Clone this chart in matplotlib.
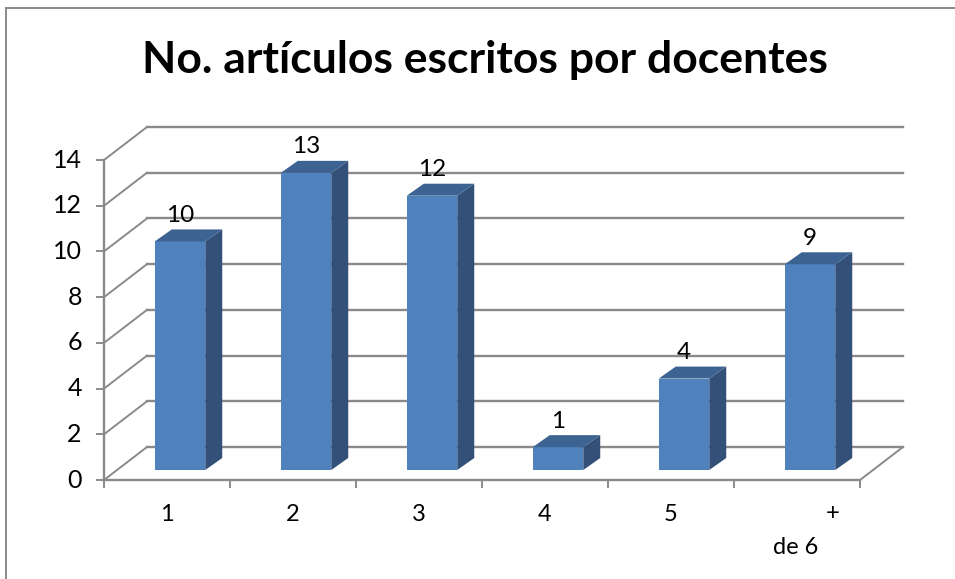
import matplotlib
matplotlib.use('Agg')
import matplotlib.pyplot as plt
from matplotlib.lines import Line2D
from matplotlib.patches import Polygon

plt.rcParams['font.family'] = ['Lato', 'DejaVu Sans']

title = 'No. artículos escritos por docentes'
categories = ['1', '2', '3', '4', '5']
last_category = ['+', 'de 6']
values = [10, 13, 12, 1, 4, 9]
y_ticks = [0, 2, 4, 6, 8, 10, 12, 14]

W, H = 955, 579
GRAY = '#8a8a8a'
FRONT = '#4f81bd'
SIDE = '#325078'
TOP = '#3c6392'

fig = plt.figure(figsize=(W / 100, H / 100), dpi=100)

# axes = front plane of the 3d box, in pixels of the reference
left, right, top, bottom = 104, 860, 160, 480
ax = fig.add_axes([left / W, 1 - bottom / H, (right - left) / W, (bottom - top) / H])
ax.set_xlim(0, 6)
ax.set_ylim(0, 14)
ax.patch.set_visible(False)

# depth of box and bars, in data units
dx = 43 / 126
dy = 33 / (320 / 14)
bar_dx = 17 / 126
bar_dy = 12 / (320 / 14)
base = 10 / (320 / 14)
shift = 13 / 126
width = 50.5 / 126

# back wall and side wall gridlines
for t in y_ticks:
    ax.plot([0, dx], [t, t + dy], color=GRAY, lw=1.4, clip_on=False, zorder=1)
    ax.plot([dx, 6 + dx], [t + dy, t + dy], color=GRAY, lw=1.7, clip_on=False, zorder=1)
ax.plot([6, 6 + dx], [0, dy], color=GRAY, lw=1.4, clip_on=False, zorder=1)

for i, v in enumerate(values):
    x0 = i + 0.5 + shift - width / 2
    x1 = x0 + width
    y0 = base
    y1 = base + v
    ax.bar(x0, v, width=width, bottom=base, align='edge', color=FRONT, clip_on=False, zorder=3)
    ax.add_patch(Polygon([(x1, y0), (x1 + bar_dx, y0 + bar_dy), (x1 + bar_dx, y1 + bar_dy), (x1, y1)],
                         closed=True, fc=SIDE, ec='none', clip_on=False, zorder=3))
    ax.add_patch(Polygon([(x0, y1), (x1, y1), (x1 + bar_dx, y1 + bar_dy), (x0 + bar_dx, y1 + bar_dy)],
                         closed=True, fc=TOP, ec='none', clip_on=False, zorder=3))
    ax.annotate(str(v), (x0 + width / 2, y1 + bar_dy), xytext=(0, 14 * 0.72), textcoords='offset points',
                ha='center', va='center', fontsize=17.5, color='black', zorder=4, annotation_clip=False)

for s in ['top', 'right']:
    ax.spines[s].set_visible(False)
for s in ['left', 'bottom']:
    ax.spines[s].set_color(GRAY)
    ax.spines[s].set_linewidth(1.7)

ax.set_yticks(y_ticks)
ax.set_yticklabels([str(t) for t in y_ticks], fontsize=18, va='center')
ax.tick_params(axis='y', length=6, width=1.4, color=GRAY, pad=10)
ax.set_xticks(range(7))
ax.set_xticklabels([])
ax.tick_params(axis='x', which='major', length=6, width=1.4, color=GRAY)
ax.set_xticks([i + 0.5 for i in range(5)], minor=True)
ax.set_xticklabels(categories, minor=True, fontsize=17)
ax.tick_params(axis='x', which='minor', length=0, pad=17)

# last category wraps onto two lines in the original
ax.text(5.78, -33 / (320 / 14), last_category[0], ha='center', va='center', fontsize=17)
ax.text(5.49, -68 / (320 / 14), last_category[1], ha='center', va='center', fontsize=17)

fig.text(485 / W, 1 - 60 / H, title, ha='center', va='center', fontsize=32, fontweight='bold', color='black')

# chart frame, cropped by the image on the right and bottom
fig.add_artist(Line2D([6 / W, 6 / W], [0, 1 - 8 / H], color=GRAY, lw=1.4))
fig.add_artist(Line2D([6 / W, 1], [1 - 8 / H, 1 - 8 / H], color=GRAY, lw=1.4))

fig.savefig('out.png', dpi=100)
